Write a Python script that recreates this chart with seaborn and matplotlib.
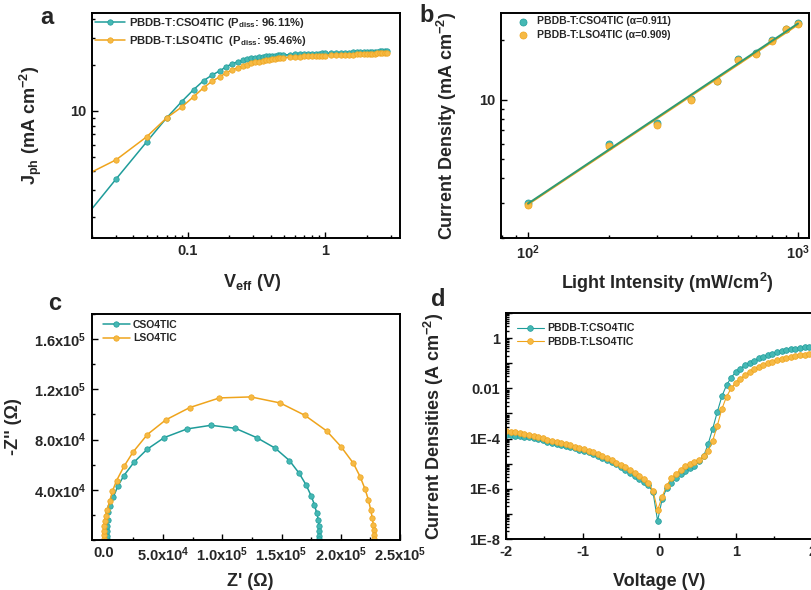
import numpy as np
import pandas as pd
import matplotlib
matplotlib.use("Agg")
import matplotlib.pyplot as plt
import seaborn as sns
from matplotlib.ticker import FixedLocator, FixedFormatter, NullFormatter, LogLocator, MultipleLocator

# ---------------- data ----------------
# panel a: Jph vs Veff
veff = [0.01, 0.03, 0.05, 0.07, 0.09, 0.11, 0.13, 0.15, 0.17, 0.19, 0.21, 0.23, 0.25, 0.27, 0.29,
        0.31, 0.33, 0.35, 0.37, 0.39, 0.41, 0.43, 0.45, 0.47, 0.49, 0.55, 0.60, 0.65, 0.70, 0.75,
        0.80, 0.85, 0.90, 0.95, 1.0, 1.1, 1.2, 1.3, 1.4, 1.5, 1.6, 1.7, 1.8, 1.9, 2.0, 2.1, 2.2,
        2.3, 2.4, 2.5, 2.6, 2.7, 2.8]
jph_cso = [1.05, 3.57, 6.25, 9.0, 11.5, 13.8, 15.8, 17.2, 18.3, 19.5, 20.4, 21.0, 21.5, 21.9, 22.2,
           22.4, 22.6, 22.75, 22.85, 22.95, 23.05, 23.1, 23.2, 23.25, 23.3, 23.4, 23.5, 23.55, 23.6, 23.65,
           23.7, 23.75, 23.8, 23.85, 23.9, 23.95, 24.0, 24.05, 24.1, 24.15, 24.2, 24.25, 24.3, 24.35, 24.4,
           24.45, 24.5, 24.5, 24.55, 24.6, 24.6, 24.65, 24.7]
jph_lso = [2.9, 4.77, 6.75, 9.0, 10.6, 12.4, 14.2, 15.7, 16.7, 17.8, 18.6, 19.2, 19.7, 20.1, 20.5,
           20.8, 21.1, 21.3, 21.5, 21.7, 21.85, 22.0, 22.1, 22.2, 22.3, 22.5, 22.6, 22.7, 22.8, 22.85,
           22.9, 22.95, 23.0, 23.05, 23.1, 23.2, 23.25, 23.3, 23.35, 23.4, 23.45, 23.5, 23.55, 23.6, 23.65,
           23.7, 23.75, 23.8, 23.85, 23.85, 23.9, 23.95, 24.0]
label_a = ["PBDB-T:CSO4TIC (P$_{\\mathregular{diss}}$: 96.11%)",
           "PBDB-T:LSO4TIC  (P$_{\\mathregular{diss}}$: 95.46%)"]

# panel b: Jsc vs light intensity
intensity = [100, 200, 300, 400, 500, 600, 700, 800, 900, 1000]
jsc_cso = [3.0, 5.95, 7.6, 10.1, 12.5, 16.1, 17.2, 20.1, 22.9, 24.5]
jsc_lso = [2.95, 5.85, 7.5, 10.0, 12.4, 15.9, 17.1, 19.9, 22.7, 24.1]
alpha_cso = 0.911
alpha_lso = 0.909
label_b = ["PBDB-T:CSO4TIC (\u03b1=0.911)", "PBDB-T:LSO4TIC (\u03b1=0.909)"]

# panel c: Nyquist plot
zre_cso = [2500, 2600, 2800, 3000, 3300, 3800, 5200, 8000, 12000, 17000, 25500, 36700, 51000, 70300,
           90500, 111000, 129200, 144600, 156700, 164800, 170700, 175000, 177800, 179700, 181100,
           181700, 182000, 182000, 182000]
zim_cso = [800, 3400, 6800, 10800, 16100, 22700, 27500, 34200, 43200, 51400, 62000, 72400, 81600, 88500,
           91400, 89000, 81500, 73200, 63300, 53300, 44000, 35200, 28100, 21500, 16100,
           10800, 6800, 3400, 800]
zre_lso = [170, 170, 170, 170, 700, 1500, 2950, 4900, 7200, 10800, 17000, 24600, 36700, 52300, 72500,
           97600, 124100, 148800, 169600, 188100, 200200, 210600, 216300, 220500, 223300, 225300,
           226600, 227500, 228000, 228300, 228300]
zim_lso = [800, 4200, 6800, 10800, 14800, 19300, 24100, 30700, 38700, 47400, 58600, 70000, 84000, 95700,
           105500, 113200, 114000, 109200, 99400, 86900, 74400, 61200, 50600, 40600, 32100, 24100,
           17500, 12200, 8200, 4200, 800]

# panel d: dark J-V (log10 of |J| in A cm-2)
voltage = [-2.00, -1.94, -1.88, -1.82, -1.76, -1.70, -1.64, -1.58, -1.52, -1.46, -1.40, -1.34, -1.28,
           -1.22, -1.16, -1.10, -1.04, -0.98, -0.92, -0.86, -0.80, -0.74, -0.68, -0.62, -0.56, -0.50,
           -0.44, -0.38, -0.32, -0.26, -0.20, -0.14, -0.08, -0.02, 0.04, 0.10, 0.16, 0.22, 0.28, 0.34,
           0.40, 0.46, 0.52, 0.58, 0.64, 0.70, 0.76, 0.82, 0.88, 0.94, 1.00, 1.06, 1.12, 1.18, 1.24,
           1.30, 1.36, 1.42, 1.48, 1.54, 1.60, 1.66, 1.72, 1.78, 1.84, 1.90, 1.96]
logj_cso = [-3.84, -3.86, -3.88, -3.90, -3.92, -3.95, -3.98, -4.02, -4.07, -4.12, -4.16, -4.20, -4.24,
            -4.29, -4.34, -4.39, -4.45, -4.50, -4.55, -4.61, -4.68, -4.76, -4.84, -4.93, -5.03, -5.13,
            -5.24, -5.36, -5.49, -5.60, -5.73, -5.86, -6.13, -7.28, -6.40, -5.97, -5.75, -5.57, -5.40,
            -5.31, -5.17, -5.08, -4.91, -4.71, -4.21, -3.60, -2.93, -2.31, -1.87, -1.57, -1.35, -1.21,
            -1.08, -0.97, -0.89, -0.81, -0.75, -0.68, -0.63, -0.57, -0.53, -0.49, -0.45, -0.43, -0.40,
            -0.37, -0.35]
logj_lso = [-3.68, -3.72, -3.75, -3.78, -3.81, -3.84, -3.88, -3.92, -3.98, -4.05, -4.10, -4.13, -4.17,
            -4.22, -4.27, -4.32, -4.37, -4.42, -4.48, -4.55, -4.62, -4.70, -4.78, -4.87, -4.96, -5.05,
            -5.15, -5.27, -5.39, -5.50, -5.62, -5.76, -6.08, -6.85, -6.31, -5.87, -5.57, -5.40, -5.24,
            -5.11, -5.00, -4.95, -4.84, -4.71, -4.48, -4.08, -3.48, -2.81, -2.33, -2.00, -1.77, -1.61,
            -1.48, -1.35, -1.24, -1.15, -1.07, -1.00, -0.93, -0.88, -0.84, -0.80, -0.76, -0.72, -0.69,
            -0.67, -0.64]
label_d = ["PBDB-T:CSO4TIC", "PBDB-T:LSO4TIC"]

# ---------------- style ----------------
sns.set_theme(style="ticks")
plt.rcParams.update({
    "font.family": ["Liberation Sans", "DejaVu Sans"],
    "font.weight": "bold",
    "axes.labelweight": "bold",
    "mathtext.fontset": "custom",
    "mathtext.rm": "Liberation Sans:bold",
    "mathtext.it": "Liberation Sans:bold",
    "mathtext.bf": "Liberation Sans:bold",
    "mathtext.default": "rm",
})

TEAL = "#1f9c9a"
TEAL_F = "#45b8b4"
ORANGE = "#efa41c"
ORANGE_F = "#f6ba45"
GREEN = "#2f9a72"

fig = plt.figure(figsize=(8.11, 5.90), dpi=100)
ax_a = fig.add_axes([0.1134, 0.5966, 0.3798, 0.3814])
ax_b = fig.add_axes([0.6177, 0.5966, 0.3798, 0.3814])
ax_c = fig.add_axes([0.1134, 0.0847, 0.3798, 0.3830])
ax_d = fig.add_axes([0.6239, 0.0864, 0.3777, 0.3830])


def style(ax):
    for s in ax.spines.values():
        s.set_linewidth(1.4)
        s.set_color("black")
    ax.tick_params(which="both", direction="in", top=False, right=False,
                   labelsize=10.5, width=1.0, color="black", pad=4)
    ax.tick_params(which="major", length=4)
    ax.tick_params(which="minor", length=2.2)
    for lab in ax.get_xticklabels() + ax.get_yticklabels():
        lab.set_fontweight("bold")


line_kw = dict(estimator=None, sort=False, marker="o", markersize=3.9,
               markeredgewidth=0.5, linewidth=1.1)

# ---- panel a ----
sns.lineplot(x=veff, y=jph_cso, ax=ax_a, color=TEAL, markerfacecolor=TEAL_F,
             markeredgecolor=TEAL, label=label_a[0], **line_kw)
sns.lineplot(x=veff, y=jph_lso, ax=ax_a, color=ORANGE, markerfacecolor=ORANGE_F,
             markeredgecolor=ORANGE, label=label_a[1], **line_kw)
ax_a.set_xscale("log")
ax_a.set_yscale("log")
ax_a.set_xlim(0.02, 3.5)
ax_a.set_ylim(1.46, 44)
ax_a.xaxis.set_major_locator(FixedLocator([0.1, 1]))
ax_a.xaxis.set_major_formatter(FixedFormatter(["0.1", "1"]))
ax_a.xaxis.set_minor_locator(LogLocator(base=10, subs=np.arange(2, 10)))
ax_a.xaxis.set_minor_formatter(NullFormatter())
ax_a.yaxis.set_major_locator(FixedLocator([10]))
ax_a.yaxis.set_major_formatter(FixedFormatter(["10"]))
ax_a.yaxis.set_minor_locator(LogLocator(base=10, subs=np.arange(2, 10)))
ax_a.yaxis.set_minor_formatter(NullFormatter())
ax_a.set_xlabel("V$_{\\mathregular{eff}}$ (V)", fontsize=13)
ax_a.set_ylabel("J$_{\\mathregular{ph}}$ (mA cm$^{\\mathregular{-2}}$)", fontsize=13)
ax_a.xaxis.set_label_coords(0.52, -0.15)
ax_a.yaxis.set_label_coords(-0.155, 0.5)
ax_a.legend(loc="upper left", bbox_to_anchor=(0.01, 0.985), frameon=False,
            handlelength=2.7, handletextpad=0.3, labelspacing=0.35, borderpad=0, borderaxespad=0,
            prop={"weight": "bold", "size": 8.1})
style(ax_a)

# ---- panel b ----
sns.scatterplot(x=intensity, y=jsc_cso, ax=ax_b, color=TEAL_F, edgecolor=TEAL, linewidth=0.5,
                s=26, label=label_b[0], zorder=3)
sns.scatterplot(x=intensity, y=jsc_lso, ax=ax_b, color=ORANGE_F, edgecolor=ORANGE, linewidth=0.5,
                s=26, label=label_b[1], zorder=3)
li = np.log10(np.array(intensity, dtype=float))
b_cso = np.mean(np.log10(jsc_cso) - alpha_cso * li)
b_lso = np.mean(np.log10(jsc_lso) - alpha_lso * li)
fit_x = np.array([intensity[0], intensity[-1]], dtype=float)
sns.lineplot(x=fit_x, y=10 ** (b_lso + alpha_lso * np.log10(fit_x)), ax=ax_b, color=ORANGE,
             linewidth=1.4, estimator=None, zorder=4, legend=False)
sns.lineplot(x=fit_x, y=10 ** (b_cso + alpha_cso * np.log10(fit_x)), ax=ax_b, color=GREEN,
             linewidth=1.4, estimator=None, zorder=5, legend=False)
ax_b.set_xscale("log")
ax_b.set_yscale("log")
ax_b.set_xlim(79.4, 1098)
ax_b.set_ylim(2.0, 27.5)
ax_b.xaxis.set_major_locator(FixedLocator([100, 1000]))
ax_b.xaxis.set_major_formatter(FixedFormatter(["10$^{\\mathregular{2}}$", "10$^{\\mathregular{3}}$"]))
ax_b.xaxis.set_minor_locator(LogLocator(base=10, subs=np.arange(2, 10)))
ax_b.xaxis.set_minor_formatter(NullFormatter())
ax_b.yaxis.set_major_locator(FixedLocator([10]))
ax_b.yaxis.set_major_formatter(FixedFormatter(["10"]))
ax_b.yaxis.set_minor_locator(LogLocator(base=10, subs=np.arange(2, 10)))
ax_b.yaxis.set_minor_formatter(NullFormatter())
ax_b.set_xlabel("Light Intensity (mW/cm$^{\\mathregular{2}}$)", fontsize=13)
ax_b.set_ylabel("Current Density (mA cm$^{\\mathregular{-2}}$)", fontsize=13)
ax_b.xaxis.set_label_coords(0.54, -0.145)
ax_b.yaxis.set_label_coords(-0.135, 0.5)
ax_b.legend(loc="upper left", bbox_to_anchor=(0.055, 0.985), frameon=False,
            handlelength=1.0, handletextpad=0.8, labelspacing=0.35, borderpad=0, borderaxespad=0,
            prop={"weight": "bold", "size": 7.5})
style(ax_b)

# ---- panel c ----
sns.lineplot(x=zre_cso, y=zim_cso, ax=ax_c, color=TEAL, markerfacecolor=TEAL_F,
             markeredgecolor=TEAL, label="CSO4TIC", **line_kw)
sns.lineplot(x=zre_lso, y=zim_lso, ax=ax_c, color=ORANGE, markerfacecolor=ORANGE_F,
             markeredgecolor=ORANGE, label="LSO4TIC", **line_kw)
ax_c.set_xlim(-1e4, 2.5e5)
ax_c.set_ylim(0, 1.8e5)
ax_c.xaxis.set_major_locator(FixedLocator([0, 5e4, 1e5, 1.5e5, 2e5, 2.5e5]))
ax_c.xaxis.set_major_formatter(FixedFormatter(["0.0", "5.0x10$^{\\mathregular{4}}$", "1.0x10$^{\\mathregular{5}}$",
                                               "1.5x10$^{\\mathregular{5}}$", "2.0x10$^{\\mathregular{5}}$",
                                               "2.5x10$^{\\mathregular{5}}$"]))
ax_c.xaxis.set_minor_locator(MultipleLocator(2.5e4))
ax_c.yaxis.set_major_locator(FixedLocator([4e4, 8e4, 1.2e5, 1.6e5]))
ax_c.yaxis.set_major_formatter(FixedFormatter(["4.0x10$^{\\mathregular{4}}$", "8.0x10$^{\\mathregular{4}}$",
                                               "1.2x10$^{\\mathregular{5}}$", "1.6x10$^{\\mathregular{5}}$"]))
ax_c.yaxis.set_minor_locator(MultipleLocator(2e4))
ax_c.set_xlabel("Z' (\u03a9)", fontsize=13)
ax_c.set_ylabel("-Z'' (\u03a9)", fontsize=13)
ax_c.xaxis.set_label_coords(0.515, -0.145)
ax_c.yaxis.set_label_coords(-0.228, 0.5)
ax_c.legend(loc="upper left", bbox_to_anchor=(0.035, 0.975), frameon=False,
            handlelength=2.6, handletextpad=0.3, labelspacing=0.35, borderpad=0, borderaxespad=0,
            prop={"weight": "bold", "size": 7.5})
style(ax_c)

# ---- panel d ----
j_cso = 10 ** np.array(logj_cso)
j_lso = 10 ** np.array(logj_lso)
sns.lineplot(x=voltage, y=j_cso, ax=ax_d, color=TEAL, markerfacecolor=TEAL_F,
             markeredgecolor=TEAL, label=label_d[0], **{**line_kw, "linewidth": 0.8, "markersize": 4.1})
sns.lineplot(x=voltage, y=j_lso, ax=ax_d, color=ORANGE, markerfacecolor=ORANGE_F,
             markeredgecolor=ORANGE, label=label_d[1], **{**line_kw, "linewidth": 0.8, "markersize": 4.1})
ax_d.set_yscale("log")
ax_d.set_xlim(-2, 2)
ax_d.set_ylim(1e-8, 10)
ax_d.xaxis.set_major_locator(FixedLocator([-2, -1, 0, 1, 2]))
ax_d.xaxis.set_major_formatter(FixedFormatter(["-2", "-1", "0", "1", "2"]))
ax_d.xaxis.set_minor_locator(MultipleLocator(0.5))
dec = [1e-8, 1e-7, 1e-6, 1e-5, 1e-4, 1e-3, 1e-2, 1e-1, 1, 10]
declab = ["1E-8", "", "1E-6", "", "1E-4", "", "0.01", "", "1", ""]
ax_d.yaxis.set_major_locator(FixedLocator(dec))
ax_d.yaxis.set_major_formatter(FixedFormatter(declab))
ax_d.yaxis.set_minor_locator(LogLocator(base=10, subs=np.arange(2, 10), numticks=20))
ax_d.yaxis.set_minor_formatter(NullFormatter())
ax_d.set_xlabel("Voltage (V)", fontsize=13)
ax_d.set_ylabel("Current Densities (A cm$^{\\mathregular{-2}}$)", fontsize=13)
ax_d.xaxis.set_label_coords(0.5, -0.15)
ax_d.yaxis.set_label_coords(-0.195, 0.5)
ax_d.legend(loc="upper left", bbox_to_anchor=(0.035, 0.955), frameon=False,
            handlelength=2.6, handletextpad=0.3, labelspacing=0.35, borderpad=0, borderaxespad=0,
            prop={"weight": "bold", "size": 7.6})
style(ax_d)

# panel letters
for txt, (x, y) in zip("abcd", [(47, 17), (427, 15), (55, 303), (438, 300)]):
    fig.text(x / 811, 1 - y / 590, txt, fontsize=17, fontweight="bold", ha="center", va="center")

fig.savefig("out.png", dpi=100)
